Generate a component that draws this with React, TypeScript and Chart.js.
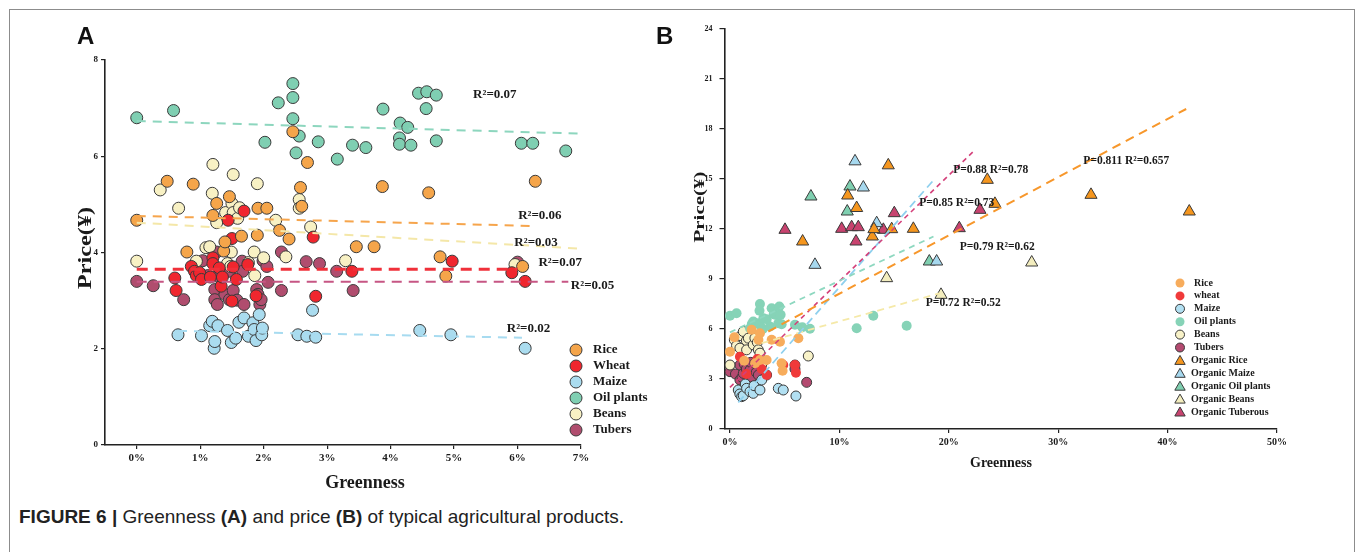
import React, { useEffect, useRef } from 'react';
import { Chart, registerables } from 'chart.js';

Chart.register(...registerables);

type Pt = [number, number];

const SERIF = "'Liberation Serif', 'Times New Roman', serif";
const SANS = "'Liberation Sans', Arial, sans-serif";

// ================= Panel A (greenness % vs price) =================
const A_X_TICKS = [0, 1, 2, 3, 4, 5, 6, 7];
const A_Y_TICKS = [0, 2, 4, 6, 8];

const RICE_A: Pt[] = [
  [0, 4.67], [0.48, 5.48], [0.79, 4.01], [0.89, 5.42], [1.2, 4.77], [1.26, 5.02], [1.37, 4.03],
  [1.39, 4.22], [1.46, 5.16], [1.65, 4.34], [1.9, 4.36], [1.91, 4.92], [2.05, 4.92], [2.25, 4.46],
  [2.4, 4.28], [2.46, 6.51], [2.58, 5.35], [2.6, 4.96], [2.69, 5.87], [3.46, 4.12], [3.74, 4.12],
  [3.87, 5.37], [4.6, 5.24], [4.78, 3.91], [4.87, 3.51], [6.08, 3.71], [6.28, 5.48],
];
const WHEAT_A: Pt[] = [
  [0.6, 3.47], [0.62, 3.21], [0.86, 3.71], [0.91, 3.61], [0.94, 3.52], [0.99, 3.58], [1.02, 3.44],
  [1.16, 3.49], [1.2, 3.89], [1.2, 3.77], [1.3, 3.68], [1.33, 3.3], [1.35, 3.49], [1.44, 4.67],
  [1.5, 4.29], [1.5, 2.99], [1.52, 3.7], [1.57, 3.44], [1.69, 4.86], [1.75, 3.75], [1.88, 3.1],
  [2.78, 4.32], [2.82, 3.09], [3.39, 3.61], [4.97, 3.82], [5.91, 3.58], [6.12, 3.4],
];
const MAIZE_A: Pt[] = [
  [0.65, 2.29], [1.02, 2.27], [1.15, 2.48], [1.19, 2.57], [1.22, 2.01], [1.23, 2.15], [1.28, 2.48],
  [1.43, 2.38], [1.49, 2.13], [1.56, 2.22], [1.61, 2.55], [1.69, 2.64], [1.76, 2.26], [1.83, 2.54],
  [1.85, 2.4], [1.88, 2.17], [1.93, 2.71], [1.97, 2.29], [1.98, 2.43], [2.54, 2.29], [2.68, 2.26],
  [2.77, 2.8], [2.82, 2.24], [4.46, 2.38], [4.95, 2.29], [6.12, 2.01],
];
const OIL_A: Pt[] = [
  [0, 6.8], [0.58, 6.95], [2.02, 6.29], [2.23, 7.11], [2.46, 7.51], [2.46, 7.22], [2.46, 6.78],
  [2.51, 6.07], [2.56, 6.42], [2.86, 6.3], [3.16, 5.94], [3.4, 6.23], [3.61, 6.18], [3.88, 6.98],
  [4.14, 6.38], [4.14, 6.25], [4.15, 6.69], [4.27, 6.6], [4.32, 6.23], [4.44, 7.31], [4.57, 7.34],
  [4.56, 6.99], [4.72, 7.27], [4.72, 6.32], [6.06, 6.27], [6.24, 6.27], [6.76, 6.11],
];
const BEANS_A: Pt[] = [
  [0, 3.82], [0.37, 5.3], [0.66, 4.92], [0.94, 3.82], [1.09, 4.1], [1.15, 4.12], [1.19, 5.23],
  [1.2, 5.83], [1.26, 4.62], [1.4, 4.83], [1.43, 3.77], [1.48, 3.71], [1.49, 4.01], [1.5, 5.02],
  [1.52, 5.62], [1.52, 4.83], [1.59, 4.71], [1.62, 4.93], [1.76, 3.79], [1.85, 4.01], [1.86, 3.52],
  [1.9, 5.43], [2.0, 3.89], [2.19, 4.67], [2.35, 3.91], [2.56, 5.1], [2.56, 4.92], [2.74, 4.53],
  [3.29, 3.83], [5.96, 3.75],
];
const TUBERS_A: Pt[] = [
  [0, 3.4], [0.26, 3.31], [0.74, 3.02], [1.04, 3.83], [1.12, 3.52], [1.23, 3.23], [1.23, 3.02],
  [1.26, 4.01], [1.26, 3.51], [1.27, 2.92], [1.39, 3.13], [1.46, 3.02], [1.46, 3.61], [1.52, 3.21],
  [1.58, 3.01], [1.66, 3.82], [1.67, 3.61], [1.69, 2.92], [1.89, 3.23], [1.91, 3.13], [1.94, 2.92],
  [1.96, 3.02], [1.99, 3.83], [2.05, 3.71], [2.07, 3.38], [2.28, 4.01], [2.28, 3.21], [2.67, 3.81],
  [2.88, 3.77], [3.15, 3.61], [3.41, 3.21], [6.0, 3.8],
];

// trend lines A (end points)
const FIT_OIL_A: Pt[] = [[0, 6.73], [7, 6.47]];
const FIT_RICE_A: Pt[] = [[0, 4.76], [6.28, 4.55]];
const FIT_BEANS_A: Pt[] = [[0, 4.62], [7, 4.08]];
const FIT_WHEAT_A: Pt[] = [[0, 3.65], [6.0, 3.65]];
const FIT_TUBERS_A: Pt[] = [[0, 3.39], [6.8, 3.39]];
const FIT_MAIZE_A: Pt[] = [[0.65, 2.37], [6.07, 2.23]];

const NOTE_TEXT_A = ['R²=0.07', 'R²=0.06', 'R²=0.03', 'R²=0.07', 'R²=0.05', 'R²=0.02'];
const NOTE_X_A = [5.3, 6.01, 5.95, 6.33, 6.84, 5.83];
const NOTE_Y_A = [7.27, 4.77, 4.21, 3.79, 3.32, 2.41];

// ================= Panel B (greenness % vs price, organic) =================
const B_X_TICKS = [0, 10, 20, 30, 40, 50];
const B_Y_TICKS = [0, 3, 6, 9, 12, 15, 18, 21, 24];

const RICE_B: Pt[] = [
  [0, 4.64], [0.4, 5.5], [1.3, 4.1], [1.98, 5.95], [2.3, 3.94], [2.6, 5.35], [2.74, 5.75],
  [2.74, 4.14], [3.35, 4.14], [3.81, 5.35], [4.57, 5.24], [4.72, 3.94], [4.81, 3.5], [6.25, 5.45],
];
const WHEAT_B: Pt[] = [
  [0.91, 4.34], [1.5, 3.3], [2.5, 4.2], [2.9, 3.6], [3.35, 3.24], [4.87, 3.84], [5.94, 3.84], [6.03, 3.38],
];
const MAIZE_B: Pt[] = [
  [0.76, 2.34], [0.9, 2.1], [1.07, 1.94], [1.22, 2.0], [1.4, 2.7], [1.52, 2.44], [1.83, 2.24],
  [2.13, 2.14], [2.2, 2.6], [2.74, 2.34], [2.9, 2.94], [4.42, 2.44], [4.87, 2.34], [6.03, 1.98],
];
const OIL_B: Pt[] = [
  [0, 6.79], [0.6, 6.95], [1.83, 6.05], [2.0, 6.3], [2.13, 6.45], [2.74, 7.5], [2.7, 7.1],
  [2.44, 6.35], [2.74, 6.25], [3.0, 6.0], [3.05, 6.65], [3.35, 6.59], [3.66, 6.15], [3.81, 7.25],
  [4.0, 6.9], [4.11, 6.85], [4.42, 6.35], [4.51, 7.35], [4.63, 6.85], [4.72, 6.29], [5.94, 6.25],
  [6.61, 6.11], [7.31, 6.01], [11.58, 6.05], [13.1, 6.79], [16.15, 6.19],
];
const BEANS_B: Pt[] = [
  [0, 3.84], [0.4, 5.35], [0.6, 5.0], [0.91, 4.85], [1.0, 5.6], [1.22, 5.85], [1.5, 5.3],
  [1.52, 4.75], [1.68, 5.45], [2.13, 5.05], [2.28, 5.45], [2.5, 5.2], [2.59, 4.75], [2.74, 4.55],
  [3.0, 4.0], [7.16, 4.38],
];
const TUBERS_B: Pt[] = [
  [0, 3.44], [0.5, 3.3], [0.91, 3.84], [0.91, 2.94], [1.1, 3.1], [1.22, 3.34], [1.3, 3.9],
  [1.5, 3.6], [1.6, 3.3], [1.68, 2.84], [1.83, 3.54], [1.9, 4.0], [2.0, 3.1], [2.28, 3.94],
  [2.4, 3.4], [2.59, 3.24], [2.89, 3.84], [3.35, 3.24], [5.94, 3.84], [5.94, 3.6], [7.01, 2.8],
];
const ORG_RICE_B: Pt[] = [
  [6.64, 11.25], [10.76, 14.01], [11.58, 13.26], [13.01, 11.55], [13.16, 11.99], [14.47, 15.82],
  [14.78, 11.99], [16.76, 12.01], [23.52, 14.95], [24.22, 13.51], [33.0, 14.05], [41.98, 13.05],
];
const ORG_MAIZE_B: Pt[] = [[7.77, 9.85], [11.43, 16.06], [12.19, 14.49], [13.41, 12.35], [18.89, 10.05]];
const ORG_OIL_B: Pt[] = [[7.4, 13.95], [10.97, 14.55], [10.72, 13.05], [18.22, 10.05]];
const ORG_BEANS_B: Pt[] = [[14.32, 9.05], [19.29, 8.05], [27.58, 9.99]];
const ORG_TUBER_B: Pt[] = [
  [5.03, 11.95], [10.21, 12.01], [11.12, 12.11], [11.73, 12.11], [11.52, 11.25], [14.02, 11.95],
  [15.02, 12.95], [20.96, 12.05], [22.85, 13.15],
];

const FIT_RICE_B: Pt[] = [[3.5, 5.85], [41.7, 19.2]];
const FIT_OIL_B: Pt[] = [[0, 5.8], [18.6, 11.55]];
const FIT_TUBER_B: Pt[] = [[0, 2.5], [22.4, 16.75]];
const FIT_MAIZE_B: Pt[] = [[0.76, 1.6], [18.7, 15.0]];
const FIT_BEANS_B: Pt[] = [[2.9, 5.15], [19.2, 8.15]];

const NOTE_TEXT_B = ['P=0.88 R²=0.78', 'P=0.85 R²=0.73', 'P=0.79 R²=0.62', 'P=0.72 R²=0.52', 'P=0.811 R²=0.657'];
const NOTE_X_B = [20.4, 17.3, 21.0, 17.9, 32.3];
const NOTE_Y_B = [15.56, 13.57, 10.93, 7.57, 16.05];

// ================= helpers =================
const toXY = (pts: Pt[]) => pts.map(([x, y]) => ({ x, y }));

function pointSet(label: string, pts: Pt[], fill: string, stroke: string | null, r: number, style: string, rank: number) {
  return {
    label,
    data: toXY(pts),
    backgroundColor: fill,
    borderColor: stroke || fill,
    borderWidth: stroke ? 1 : 0,
    pointRadius: r,
    pointHoverRadius: r,
    pointStyle: style,
    showLine: false,
    legendRank: rank,
    order: rank,
  };
}

function fitSet(pts: Pt[], color: string, width: number, dash: number[]) {
  return {
    label: '',
    data: toXY(pts),
    borderColor: color,
    backgroundColor: color,
    borderWidth: width,
    borderDash: dash,
    showLine: true,
    pointRadius: 0,
    pointHoverRadius: 0,
    fill: false,
    tension: 0,
    order: -1,
  };
}

function drawMarker(ctx: CanvasRenderingContext2D, style: string, x: number, y: number, r: number, fill: string, stroke: string | null) {
  ctx.beginPath();
  if (style === 'triangle') {
    let a = 0;
    ctx.moveTo(x + Math.sin(a) * r, y - Math.cos(a) * r);
    a += (2 * Math.PI) / 3;
    ctx.lineTo(x + Math.sin(a) * r, y - Math.cos(a) * r);
    a += (2 * Math.PI) / 3;
    ctx.lineTo(x + Math.sin(a) * r, y - Math.cos(a) * r);
    ctx.closePath();
  } else {
    ctx.arc(x, y, r, 0, Math.PI * 2);
  }
  ctx.fillStyle = fill;
  ctx.fill();
  if (stroke) {
    ctx.lineWidth = 1;
    ctx.strokeStyle = stroke;
    ctx.stroke();
  }
}

function drawText(ctx: CanvasRenderingContext2D, text: string, x: number, y: number, font: string, align: CanvasTextAlign, sx = 1, rot = 0) {
  ctx.save();
  ctx.translate(x, y);
  if (rot) ctx.rotate(rot);
  ctx.scale(sx, 1);
  ctx.font = font;
  ctx.textAlign = align;
  ctx.textBaseline = 'middle';
  ctx.fillStyle = '#1a1a1a';
  ctx.fillText(text, 0, 0);
  ctx.restore();
}

const overlayPlugin = {
  id: 'overlay',
  afterDraw(chart: any, _args: any, opts: any) {
    const ctx: CanvasRenderingContext2D = chart.ctx;
    const xs = chart.scales.x;
    const ys = chart.scales.y;
    ctx.save();
    (opts.notes || []).forEach((n: any) => {
      drawText(ctx, n.text, xs.getPixelForValue(n.x), ys.getPixelForValue(n.y), opts.noteFont, 'left');
    });
    (opts.titles || []).forEach((t: any) => {
      drawText(ctx, t.text, t.x, t.y, t.font, 'center', t.sx || 1, t.rot || 0);
    });
    const L = opts.legend;
    if (L) {
      const items = chart.data.datasets
        .filter((d: any) => d.legendRank !== undefined)
        .sort((a: any, b: any) => a.legendRank - b.legendRank);
      items.forEach((d: any, i: number) => {
        const cy = L.y + i * L.rowH;
        const tri = d.pointStyle === 'triangle';
        drawMarker(ctx, d.pointStyle, L.x, cy + (tri ? 1 : 0), tri ? L.triR : L.r, d.backgroundColor, d.borderWidth ? d.borderColor : null);
        drawText(ctx, d.label, L.x + (tri ? L.triDx : L.dx), cy, L.font, 'left');
      });
    }
    ctx.restore();
  },
};

function axisX(min: number, max: number, ticks: number[], fontSize: number, height: number, tickLen: number, pad: number) {
  return {
    type: 'linear',
    min,
    max,
    afterBuildTicks: (s: any) => {
      s.ticks = ticks.map((v) => ({ value: v }));
    },
    afterFit: (s: any) => {
      s.height = height;
    },
    ticks: {
      callback: (v: any) => `${v}%`,
      font: { family: SERIF, size: fontSize, weight: 'bold' },
      color: '#1a1a1a',
      padding: pad,
      maxRotation: 0,
      autoSkip: false,
    },
    grid: { drawOnChartArea: false, drawTicks: true, tickLength: tickLen, color: '#222', lineWidth: 1.2 },
    border: { display: true, color: '#222', width: 1.6 },
  };
}

function axisY(min: number, max: number, ticks: number[], fontSize: number, width: number, tickLen: number, pad: number) {
  return {
    type: 'linear',
    min,
    max,
    afterBuildTicks: (s: any) => {
      s.ticks = ticks.map((v) => ({ value: v }));
    },
    afterFit: (s: any) => {
      s.width = width;
    },
    ticks: {
      font: { family: SERIF, size: fontSize, weight: 'bold' },
      color: '#1a1a1a',
      padding: pad,
      autoSkip: false,
    },
    grid: { drawOnChartArea: false, drawTicks: true, tickLength: tickLen, color: '#222', lineWidth: 1.2 },
    border: { display: true, color: '#222', width: 1.6 },
  };
}

const DARK = '#3a3a3a';

function configA(): any {
  const datasets = [
    pointSet('Tubers', TUBERS_A, '#B04D6E', DARK, 6, 'circle', 5),
    pointSet('Wheat', WHEAT_A, '#F0262E', DARK, 6, 'circle', 1),
    pointSet('Maize', MAIZE_A, '#AADCEF', DARK, 6, 'circle', 2),
    pointSet('Oil plants', OIL_A, '#7FCFB2', DARK, 6, 'circle', 3),
    pointSet('Rice', RICE_A, '#F5A54A', DARK, 6, 'circle', 0),
    pointSet('Beans', BEANS_A, '#F8F1C4', DARK, 6, 'circle', 4),
    fitSet(FIT_OIL_A, '#8DD6BE', 2, [9, 7]),
    fitSet(FIT_RICE_A, '#F6A54C', 2, [9, 7]),
    fitSet(FIT_BEANS_A, '#F4E7A8', 2, [9, 7]),
    fitSet(FIT_WHEAT_A, '#F0303A', 3, [11, 7]),
    fitSet(FIT_TUBERS_A, '#C65684', 2, [10, 7]),
    fitSet(FIT_MAIZE_A, '#A7DBF0', 2, [9, 7]),
  ];
  return {
    type: 'scatter',
    data: { datasets },
    plugins: [overlayPlugin],
    options: {
      responsive: false,
      animation: false,
      events: [],
      layout: { padding: { left: 0, top: 60, right: 99, bottom: 0 } },
      scales: {
        x: axisX(-0.5, 7, A_X_TICKS, 11, 55, 4, 3),
        y: axisY(0, 8, A_Y_TICKS, 9, 105, 4, 3),
      },
      plugins: {
        legend: { display: false },
        tooltip: { enabled: false },
        overlay: {
          noteFont: `bold 13px ${SERIF}`,
          notes: NOTE_TEXT_A.map((text, i) => ({ text, x: NOTE_X_A[i], y: NOTE_Y_A[i] })),
          titles: [
            { text: 'Greenness', x: 365, y: 483, font: `bold 18px ${SERIF}` },
            { text: 'Price(¥)', x: 86, y: 248, font: `bold 18px ${SERIF}`, sx: 1.35, rot: -Math.PI / 2 },
          ],
          legend: { x: 576, y: 350, rowH: 16, r: 6, triR: 7, dx: 17, triDx: 15, font: `bold 13px ${SERIF}` },
        },
      },
    },
  };
}

function configB(): any {
  const datasets = [
    pointSet('Tubers', TUBERS_B, '#B44A70', DARK, 5, 'circle', 5),
    pointSet('Beans', BEANS_B, '#F8F2C8', DARK, 5, 'circle', 4),
    pointSet('Maize', MAIZE_B, '#B2E0F2', DARK, 5, 'circle', 2),
    pointSet('wheat', WHEAT_B, '#F03A3A', null, 5, 'circle', 1),
    pointSet('Rice', RICE_B, '#F7AC5C', null, 5, 'circle', 0),
    pointSet('Oil plants', OIL_B, '#86D3B7', null, 5, 'circle', 3),
    pointSet('Organic Rice', ORG_RICE_B, '#F5961E', DARK, 7, 'triangle', 6),
    pointSet('Organic Maize', ORG_MAIZE_B, '#A6D8EE', DARK, 7, 'triangle', 7),
    pointSet('Organic Oil plants', ORG_OIL_B, '#7FCFB0', DARK, 7, 'triangle', 8),
    pointSet('Organic Beans', ORG_BEANS_B, '#F3EDBE', DARK, 7, 'triangle', 9),
    pointSet('Organic Tuberous', ORG_TUBER_B, '#C8436F', DARK, 7, 'triangle', 10),
    fitSet(FIT_RICE_B, '#F7972B', 2, [9, 6]),
    fitSet(FIT_OIL_B, '#8ED8C0', 1.8, [6, 5]),
    fitSet(FIT_TUBER_B, '#D4407A', 1.6, [5, 4]),
    fitSet(FIT_MAIZE_B, '#8FD0EE', 1.8, [8, 5]),
    fitSet(FIT_BEANS_B, '#F5E9A8', 1.8, [7, 5]),
  ];
  return {
    type: 'scatter',
    data: { datasets },
    plugins: [overlayPlugin],
    options: {
      responsive: false,
      animation: false,
      events: [],
      layout: { padding: { left: 0, top: 29, right: 80, bottom: 0 } },
      scales: {
        x: axisX(-0.5, 50, B_X_TICKS, 10, 71, 4, 3),
        y: axisY(0, 24, B_Y_TICKS, 8, 44.5, 5, 7),
      },
      plugins: {
        legend: { display: false },
        tooltip: { enabled: false },
        overlay: {
          noteFont: `bold 11.5px ${SERIF}`,
          notes: NOTE_TEXT_B.map((text, i) => ({ text, x: NOTE_X_B[i], y: NOTE_Y_B[i] })),
          titles: [
            { text: 'Greenness', x: 321, y: 463, font: `bold 14px ${SERIF}` },
            { text: 'Price(¥)', x: 20, y: 207, font: `bold 15px ${SERIF}`, sx: 1.4, rot: -Math.PI / 2 },
          ],
          legend: { x: 500, y: 283, rowH: 12.9, r: 4.5, triR: 6, dx: 14, triDx: 11, font: `bold 10px ${SERIF}` },
        },
      },
    },
  };
}

export default function App() {
  const refA = useRef<HTMLCanvasElement>(null);
  const refB = useRef<HTMLCanvasElement>(null);

  useEffect(() => {
    const a = new Chart(refA.current as HTMLCanvasElement, configA());
    const b = new Chart(refB.current as HTMLCanvasElement, configB());
    return () => {
      a.destroy();
      b.destroy();
    };
  }, []);

  return (
    <div style={{ position: 'absolute', left: 0, top: 0, width: 1357, height: 552, overflow: 'hidden', background: '#fff' }}>
      <div
        style={{
          position: 'absolute', left: 9, top: 9, width: 1346, height: 600,
          border: '1px solid #8c8c8c', boxSizing: 'border-box',
        }}
      />
      <canvas ref={refA} width={680} height={500} style={{ position: 'absolute', left: 0, top: 0, width: 680, height: 500 }} />
      <canvas ref={refB} width={677} height={500} style={{ position: 'absolute', left: 680, top: 0, width: 677, height: 500 }} />
      <div style={{ position: 'absolute', left: 77, top: 22, font: `bold 24px ${SANS}`, color: '#111', lineHeight: '28px' }}>A</div>
      <div style={{ position: 'absolute', left: 656, top: 22, font: `bold 24px ${SANS}`, color: '#111', lineHeight: '28px' }}>B</div>
      <div style={{ position: 'absolute', left: 19, top: 506, font: `19px ${SANS}`, color: '#222', lineHeight: '22px', whiteSpace: 'nowrap' }}>
        <b>FIGURE 6 |</b> Greenness <b>(A)</b> and price <b>(B)</b> of typical agricultural products.
      </div>
    </div>
  );
}
